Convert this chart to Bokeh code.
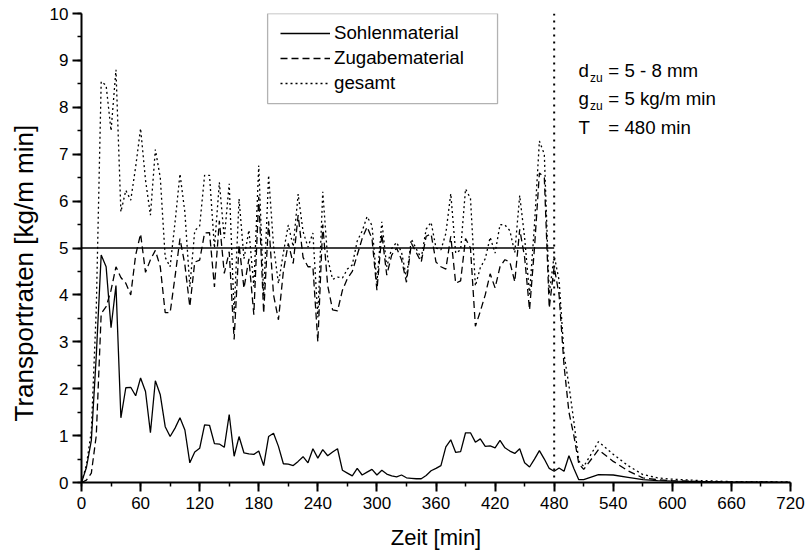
from bokeh.plotting import figure
from bokeh.models import Range1d, Legend, LegendItem, Label, Span, FixedTicker, BoxAnnotation, Title
from bokeh.embed import file_html
from bokeh.resources import INLINE

# ---- data ----
zeit = list(range(0, 515, 5)) + [525, 540, 555, 570, 585, 600, 630, 660, 690, 720]

sohlenmaterial = [
    0.0, 0.32, 0.9, 2.7, 4.85, 4.6, 3.3, 4.2, 1.38, 2.02,
    2.03, 1.85, 2.23, 1.94, 1.06, 2.17, 1.87, 1.19, 0.98, 1.16,
    1.38, 1.12, 0.42, 0.65, 0.73, 1.23, 1.22, 0.83, 0.82, 0.75,
    1.45, 0.56, 0.98, 0.63, 0.61, 0.6, 0.67, 0.36, 0.98, 1.05,
    0.77, 0.4, 0.39, 0.36, 0.45, 0.55, 0.42, 0.72, 0.52, 0.7,
    0.57, 0.65, 0.72, 0.26, 0.2, 0.14, 0.3, 0.16, 0.22, 0.28,
    0.16, 0.26, 0.18, 0.14, 0.12, 0.16, 0.1, 0.09, 0.08, 0.08,
    0.15, 0.25, 0.3, 0.36, 0.76, 0.91, 0.64, 0.66, 1.06, 1.06,
    0.86, 0.93, 0.77, 0.78, 0.74, 0.9, 0.74, 0.67, 0.62, 0.72,
    0.42, 0.33, 0.5, 0.68, 0.5, 0.3, 0.24, 0.31, 0.24, 0.57,
    0.3, 0.06, 0.06,
    0.17, 0.16, 0.11, 0.06, 0.04, 0.03, 0.02, 0.01, 0.01, 0.0,
]

zugabematerial = [
    0.0, 0.05, 0.2, 1.0, 3.6, 3.75, 4.1, 4.6, 4.37, 4.25,
    4.0, 4.85, 5.3, 4.48, 4.75, 4.95, 4.6, 3.62, 3.62, 4.39,
    5.2, 4.64, 3.75, 4.7, 4.74, 5.32, 5.33, 4.17, 5.58, 4.46,
    4.92, 3.05, 5.07, 4.14, 4.77, 3.58, 6.09, 3.61, 5.57, 4.0,
    3.47, 4.5, 5.1, 4.67, 5.7, 4.8, 4.6, 4.6, 3.0, 5.5,
    4.2, 3.68, 3.66, 4.1, 4.35, 4.5, 4.85, 5.2, 5.45, 5.2,
    4.1, 5.3, 4.42, 4.85, 5.0, 4.75, 4.27, 5.1, 4.9, 4.7,
    5.25, 5.3, 4.7, 4.6, 4.55, 5.25, 4.25, 4.3, 5.2, 5.0,
    3.33, 3.65, 4.0, 4.45, 4.15, 4.6, 4.75, 4.7, 4.28, 5.4,
    4.8, 3.68, 5.0, 6.6, 6.5, 3.72, 4.6, 4.0, 2.5, 1.5,
    1.0, 0.4, 0.28,
    0.7, 0.45, 0.25, 0.1, 0.06, 0.04, 0.02, 0.01, 0.01, 0.0,
]

gesamt = [
    0.0, 0.37, 1.1, 3.7, 8.55, 8.47, 7.5, 8.8, 5.77, 6.23,
    6.02, 6.73, 7.55, 6.45, 5.7, 7.1, 6.5, 4.8, 4.6, 5.55,
    6.58, 5.76, 4.17, 5.37, 5.47, 6.55, 6.55, 5.0, 6.4, 5.21,
    6.37, 3.61, 6.05, 4.77, 5.38, 4.18, 6.76, 3.97, 6.55, 5.05,
    4.24, 4.9, 5.49, 5.03, 6.15, 5.35, 5.02, 5.32, 3.52, 6.2,
    4.77, 4.33, 4.38, 4.36, 4.55, 4.64, 5.15, 5.36, 5.67, 5.48,
    4.26, 5.56, 4.6, 4.99, 5.12, 4.91, 4.37, 5.19, 4.98, 4.78,
    5.4, 5.55, 5.0, 4.96, 5.31, 6.16, 4.89, 4.96, 6.26, 6.06,
    4.19, 4.58, 4.77, 5.23, 4.89, 5.5, 5.49, 5.37, 4.9, 6.12,
    5.22, 4.01, 5.5, 7.28, 7.0, 4.02, 4.84, 4.31, 2.74, 2.07,
    1.3, 0.46, 0.34,
    0.87, 0.6, 0.36, 0.17, 0.1, 0.07, 0.04, 0.02, 0.02, 0.01,
]

g_zu = 5.0          # Zugaberate [kg/m min]
T_ende = 480        # Zugabedauer [min]
soll_x = [0, T_ende]
soll_y = [g_zu, g_zu]

x_ticks = list(range(0, 721, 60))
y_ticks = list(range(0, 11))

FONT = "Liberation Sans"

p = figure(width=805, height=552, output_backend="svg", toolbar_location=None,
           x_range=Range1d(0, 720), y_range=Range1d(0, 10),
           min_border_left=81, min_border_right=15, min_border_top=13,
           min_border_bottom=69)
p.outline_line_color = None
p.grid.visible = False
p.background_fill_color = "white"

for ax in (p.xaxis[0], p.yaxis[0]):
    ax.axis_line_width = 2
    ax.major_tick_line_width = 2
    ax.minor_tick_line_width = 1.5
    ax.major_tick_out = 9
    ax.major_tick_in = 0
    ax.minor_tick_out = 4
    ax.minor_tick_in = 0
    ax.major_label_text_font = FONT
    ax.major_label_text_font_size = "17px"
    ax.major_label_text_color = "black"
    ax.axis_label_text_font = FONT
    ax.axis_label_text_font_size = "22px"
    ax.axis_label_text_font_style = "normal"
    ax.axis_label_text_color = "black"
    ax.axis_line_color = "black"
    ax.major_tick_line_color = "black"
    ax.minor_tick_line_color = "black"

p.xaxis.ticker = FixedTicker(ticks=x_ticks, minor_ticks=list(range(0, 721, 30)))
p.yaxis.ticker = FixedTicker(ticks=y_ticks, minor_ticks=[i * 0.5 for i in range(21)])
p.xaxis.axis_label = "Zeit [min]"
p.xaxis.major_label_standoff = 5
p.yaxis.major_label_standoff = 4
p.xaxis.axis_label_standoff = 13

# y-axis title (starts a little above the x axis, as in the original)
p.add_layout(Title(text="Transportraten [kg/m min]", align="left", offset=61,
                   vertical_align="middle", standoff=13,
                   text_font=FONT, text_font_size="26px", text_font_style="normal",
                   text_color="black"), "left")

r_soll = p.line(soll_x, soll_y, line_color="black", line_width=1.3)
vline = Span(location=T_ende, dimension="height", line_color="black",
             line_width=2, line_dash="2 5")
p.add_layout(vline)

r_s = p.line(zeit, sohlenmaterial, line_color="black", line_width=1.3)
r_z = p.line(zeit, zugabematerial, line_color="black", line_width=1.3, line_dash="7 4")
r_g = p.line(zeit, gesamt, line_color="black", line_width=1.3, line_dash="2 3")

# legend frame
p.add_layout(BoxAnnotation(left=189, right=422.5, bottom=8.08, top=10.0,
                           fill_color="white", fill_alpha=1.0,
                           line_color="black", line_width=1.3))

legend = Legend(items=[
    LegendItem(label="Sohlenmaterial", renderers=[r_s]),
    LegendItem(label="Zugabematerial", renderers=[r_z]),
    LegendItem(label="gesamt", renderers=[r_g]),
], location=(199, 388))
legend.label_text_font = FONT
legend.label_text_font_size = "18.7px"
legend.label_text_color = "black"
legend.glyph_width = 50
legend.glyph_height = 22
legend.label_height = 22
legend.label_width = 140
legend.label_standoff = 4
legend.spacing = 3
legend.padding = 10
legend.margin = 0
legend.border_line_color = None
legend.background_fill_alpha = 0
p.add_layout(legend)

def lab(x, y, text, size="18.7px"):
    p.add_layout(Label(x=x, y=y, text=text, text_font=FONT, text_font_size=size,
                       text_color="black", text_baseline="alphabetic",
                       text_align="left"))

lab(504.6, 8.79, "d")
lab(516.5, 8.63, "zu", "12px")
lab(535.0, 8.79, "= 5 - 8 mm")
lab(504.6, 8.18, "g")
lab(516.5, 8.03, "zu", "12px")
lab(535.0, 8.18, "= 5 kg/m min")
lab(504.6, 7.56, "T")
lab(535.0, 7.56, "= 480 min")

open("out.html", "w").write(file_html(p, INLINE))
